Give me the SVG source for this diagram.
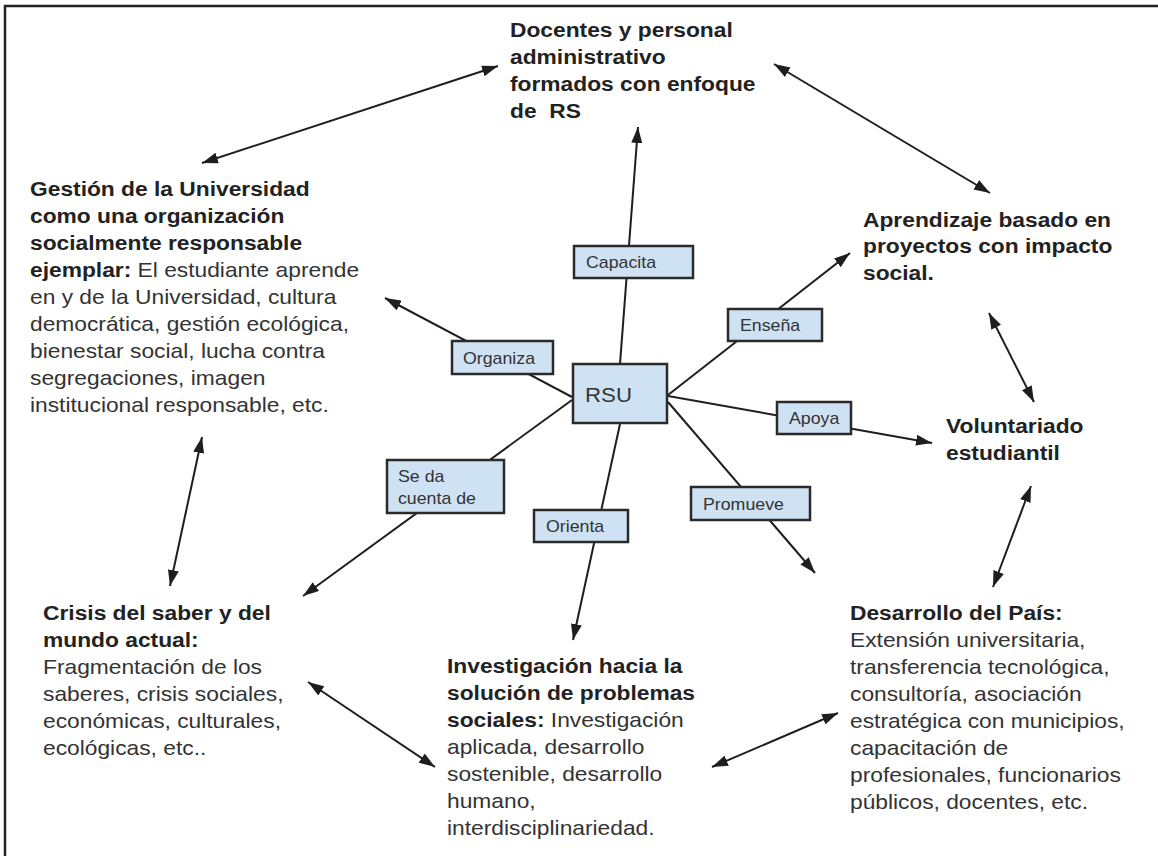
<svg xmlns="http://www.w3.org/2000/svg" width="1158" height="856" viewBox="0 0 1158 856">
  <style>
    text { font-family: "Liberation Sans", Arial, sans-serif; }
    .body { font-size: 20.5px; fill: #333; }
    .b { font-weight: bold; fill: #222; }
    .lbl { font-size: 16px; fill: #333; }
    .core { font-size: 21px; fill: #333; }
    .box { fill: #cfe2f3; stroke: #2a2a2a; stroke-width: 2.5; }
    .link { stroke: #1e1e1e; stroke-width: 2; fill: none; marker-end: url(#head); }
    .both { marker-start: url(#head); }
    .frame { fill: none; stroke: #222; stroke-width: 2.5; }
  </style>
  <defs>
    <marker id="head" markerUnits="userSpaceOnUse" markerWidth="16" markerHeight="11" refX="16" refY="5.5" orient="auto-start-reverse">
      <path d="M0,0 L16,5.5 L0,11 z" fill="#1e1e1e"/>
    </marker>
  </defs>

  <rect width="1158" height="856" fill="#fff"/>
  <path class="frame" d="M5,856 V6 H1158"/>

  <!-- connectors -->
  <g id="connectors">
    <line class="link" x1="620" y1="364" x2="638" y2="127"/>
    <line class="link" x1="572" y1="397" x2="385" y2="298"/>
    <line class="link" x1="668" y1="395" x2="850" y2="253"/>
    <line class="link" x1="668" y1="396" x2="932" y2="443"/>
    <line class="link" x1="668" y1="402" x2="815" y2="573"/>
    <line class="link" x1="620" y1="424" x2="573" y2="640"/>
    <line class="link" x1="572" y1="400" x2="303" y2="596"/>

    <line class="link both" x1="202" y1="163" x2="498" y2="66"/>
    <line class="link both" x1="774" y1="64" x2="990" y2="193"/>
    <line class="link both" x1="989" y1="313" x2="1034" y2="402"/>
    <line class="link both" x1="1031" y1="486" x2="993" y2="587"/>
    <line class="link both" x1="712" y1="767" x2="838" y2="713"/>
    <line class="link both" x1="308" y1="682" x2="435" y2="767"/>
    <line class="link both" x1="202" y1="437" x2="170" y2="586"/>
  </g>

  <!-- centre -->
  <g id="rsu">
    <rect class="box" x="573" y="364" width="94" height="59"/>
    <text class="core" transform="translate(585,0) scale(1.06,1)" x="0" y="402">RSU</text>
  </g>

  <!-- relation labels -->
  <g id="lbl-capacita">
    <rect class="box" x="574" y="246" width="119" height="32"/>
    <text class="lbl" transform="translate(586,0) scale(1.11,1)" x="0" y="268">Capacita</text>
  </g>
  <g id="lbl-organiza">
    <rect class="box" x="452" y="341" width="101" height="33"/>
    <text class="lbl" transform="translate(463,0) scale(1.11,1)" x="0" y="364">Organiza</text>
  </g>
  <g id="lbl-ensena">
    <rect class="box" x="728" y="309" width="94" height="32"/>
    <text class="lbl" transform="translate(740,0) scale(1.11,1)" x="0" y="331">Enseña</text>
  </g>
  <g id="lbl-apoya">
    <rect class="box" x="777" y="402" width="74" height="32"/>
    <text class="lbl" transform="translate(789,0) scale(1.11,1)" x="0" y="424">Apoya</text>
  </g>
  <g id="lbl-seda">
    <rect class="box" x="387" y="460" width="117" height="53"/>
    <text class="lbl" transform="translate(398,0) scale(1.11,1)" y="482"><tspan x="0">Se da</tspan><tspan x="0" dy="22">cuenta de</tspan></text>
  </g>
  <g id="lbl-orienta">
    <rect class="box" x="534" y="510" width="94" height="32"/>
    <text class="lbl" transform="translate(546,0) scale(1.11,1)" x="0" y="532">Orienta</text>
  </g>
  <g id="lbl-promueve">
    <rect class="box" x="691" y="487" width="119" height="33"/>
    <text class="lbl" transform="translate(703,0) scale(1.11,1)" x="0" y="510">Promueve</text>
  </g>

  <!-- outcome nodes -->
  <g id="docentes">
    <text class="body b" transform="translate(510,0) scale(1.112,1)" y="37">
      <tspan x="0">Docentes y personal</tspan>
      <tspan x="0" dy="27">administrativo</tspan>
      <tspan x="0" dy="27.5">formados con enfoque</tspan>
      <tspan x="0" dy="27">de&#160; RS</tspan>
    </text>
  </g>

  <g id="gestion">
    <text class="body" transform="translate(30,0) scale(1.112,1)" y="196">
      <tspan x="0" class="b">Gestión de la Universidad</tspan>
      <tspan x="0" dy="27" class="b">como una organización</tspan>
      <tspan x="0" dy="27" class="b">socialmente responsable</tspan>
      <tspan x="0" dy="27" class="b">ejemplar:</tspan><tspan> El estudiante aprende</tspan>
      <tspan x="0" dy="27">en y de la Universidad, cultura</tspan>
      <tspan x="0" dy="27">democrática, gestión ecológica,</tspan>
      <tspan x="0" dy="27">bienestar social, lucha contra</tspan>
      <tspan x="0" dy="27">segregaciones, imagen</tspan>
      <tspan x="0" dy="27">institucional responsable, etc.</tspan>
    </text>
  </g>

  <g id="aprendizaje">
    <text class="body b" transform="translate(863,0) scale(1.112,1)" y="227">
      <tspan x="0">Aprendizaje basado en</tspan>
      <tspan x="0" dy="26.5">proyectos con impacto</tspan>
      <tspan x="0" dy="26.5">social.</tspan>
    </text>
  </g>

  <g id="voluntariado">
    <text class="body b" transform="translate(946,0) scale(1.112,1)" y="433">
      <tspan x="0">Voluntariado</tspan>
      <tspan x="0" dy="27">estudiantil</tspan>
    </text>
  </g>

  <g id="crisis">
    <text class="body" transform="translate(43,0) scale(1.112,1)" y="620">
      <tspan x="0" class="b">Crisis del saber y del</tspan>
      <tspan x="0" dy="27" class="b">mundo actual:</tspan>
      <tspan x="0" dy="27">Fragmentación de los</tspan>
      <tspan x="0" dy="27">saberes, crisis sociales,</tspan>
      <tspan x="0" dy="27">económicas, culturales,</tspan>
      <tspan x="0" dy="27">ecológicas, etc..</tspan>
    </text>
  </g>

  <g id="investigacion">
    <text class="body" transform="translate(447,0) scale(1.112,1)" y="673">
      <tspan x="0" class="b">Investigación hacia la</tspan>
      <tspan x="0" dy="27" class="b">solución de problemas</tspan>
      <tspan x="0" dy="27" class="b">sociales:</tspan><tspan> Investigación</tspan>
      <tspan x="0" dy="27">aplicada, desarrollo</tspan>
      <tspan x="0" dy="27">sostenible, desarrollo</tspan>
      <tspan x="0" dy="27">humano,</tspan>
      <tspan x="0" dy="27">interdisciplinariedad.</tspan>
    </text>
  </g>

  <g id="desarrollo">
    <text class="body" transform="translate(850,0) scale(1.112,1)" y="620">
      <tspan x="0" class="b">Desarrollo del País:</tspan>
      <tspan x="0" dy="27">Extensión universitaria,</tspan>
      <tspan x="0" dy="27">transferencia tecnológica,</tspan>
      <tspan x="0" dy="27">consultoría, asociación</tspan>
      <tspan x="0" dy="27">estratégica con municipios,</tspan>
      <tspan x="0" dy="27">capacitación de</tspan>
      <tspan x="0" dy="27">profesionales, funcionarios</tspan>
      <tspan x="0" dy="27">públicos, docentes, etc.</tspan>
    </text>
  </g>
</svg>
